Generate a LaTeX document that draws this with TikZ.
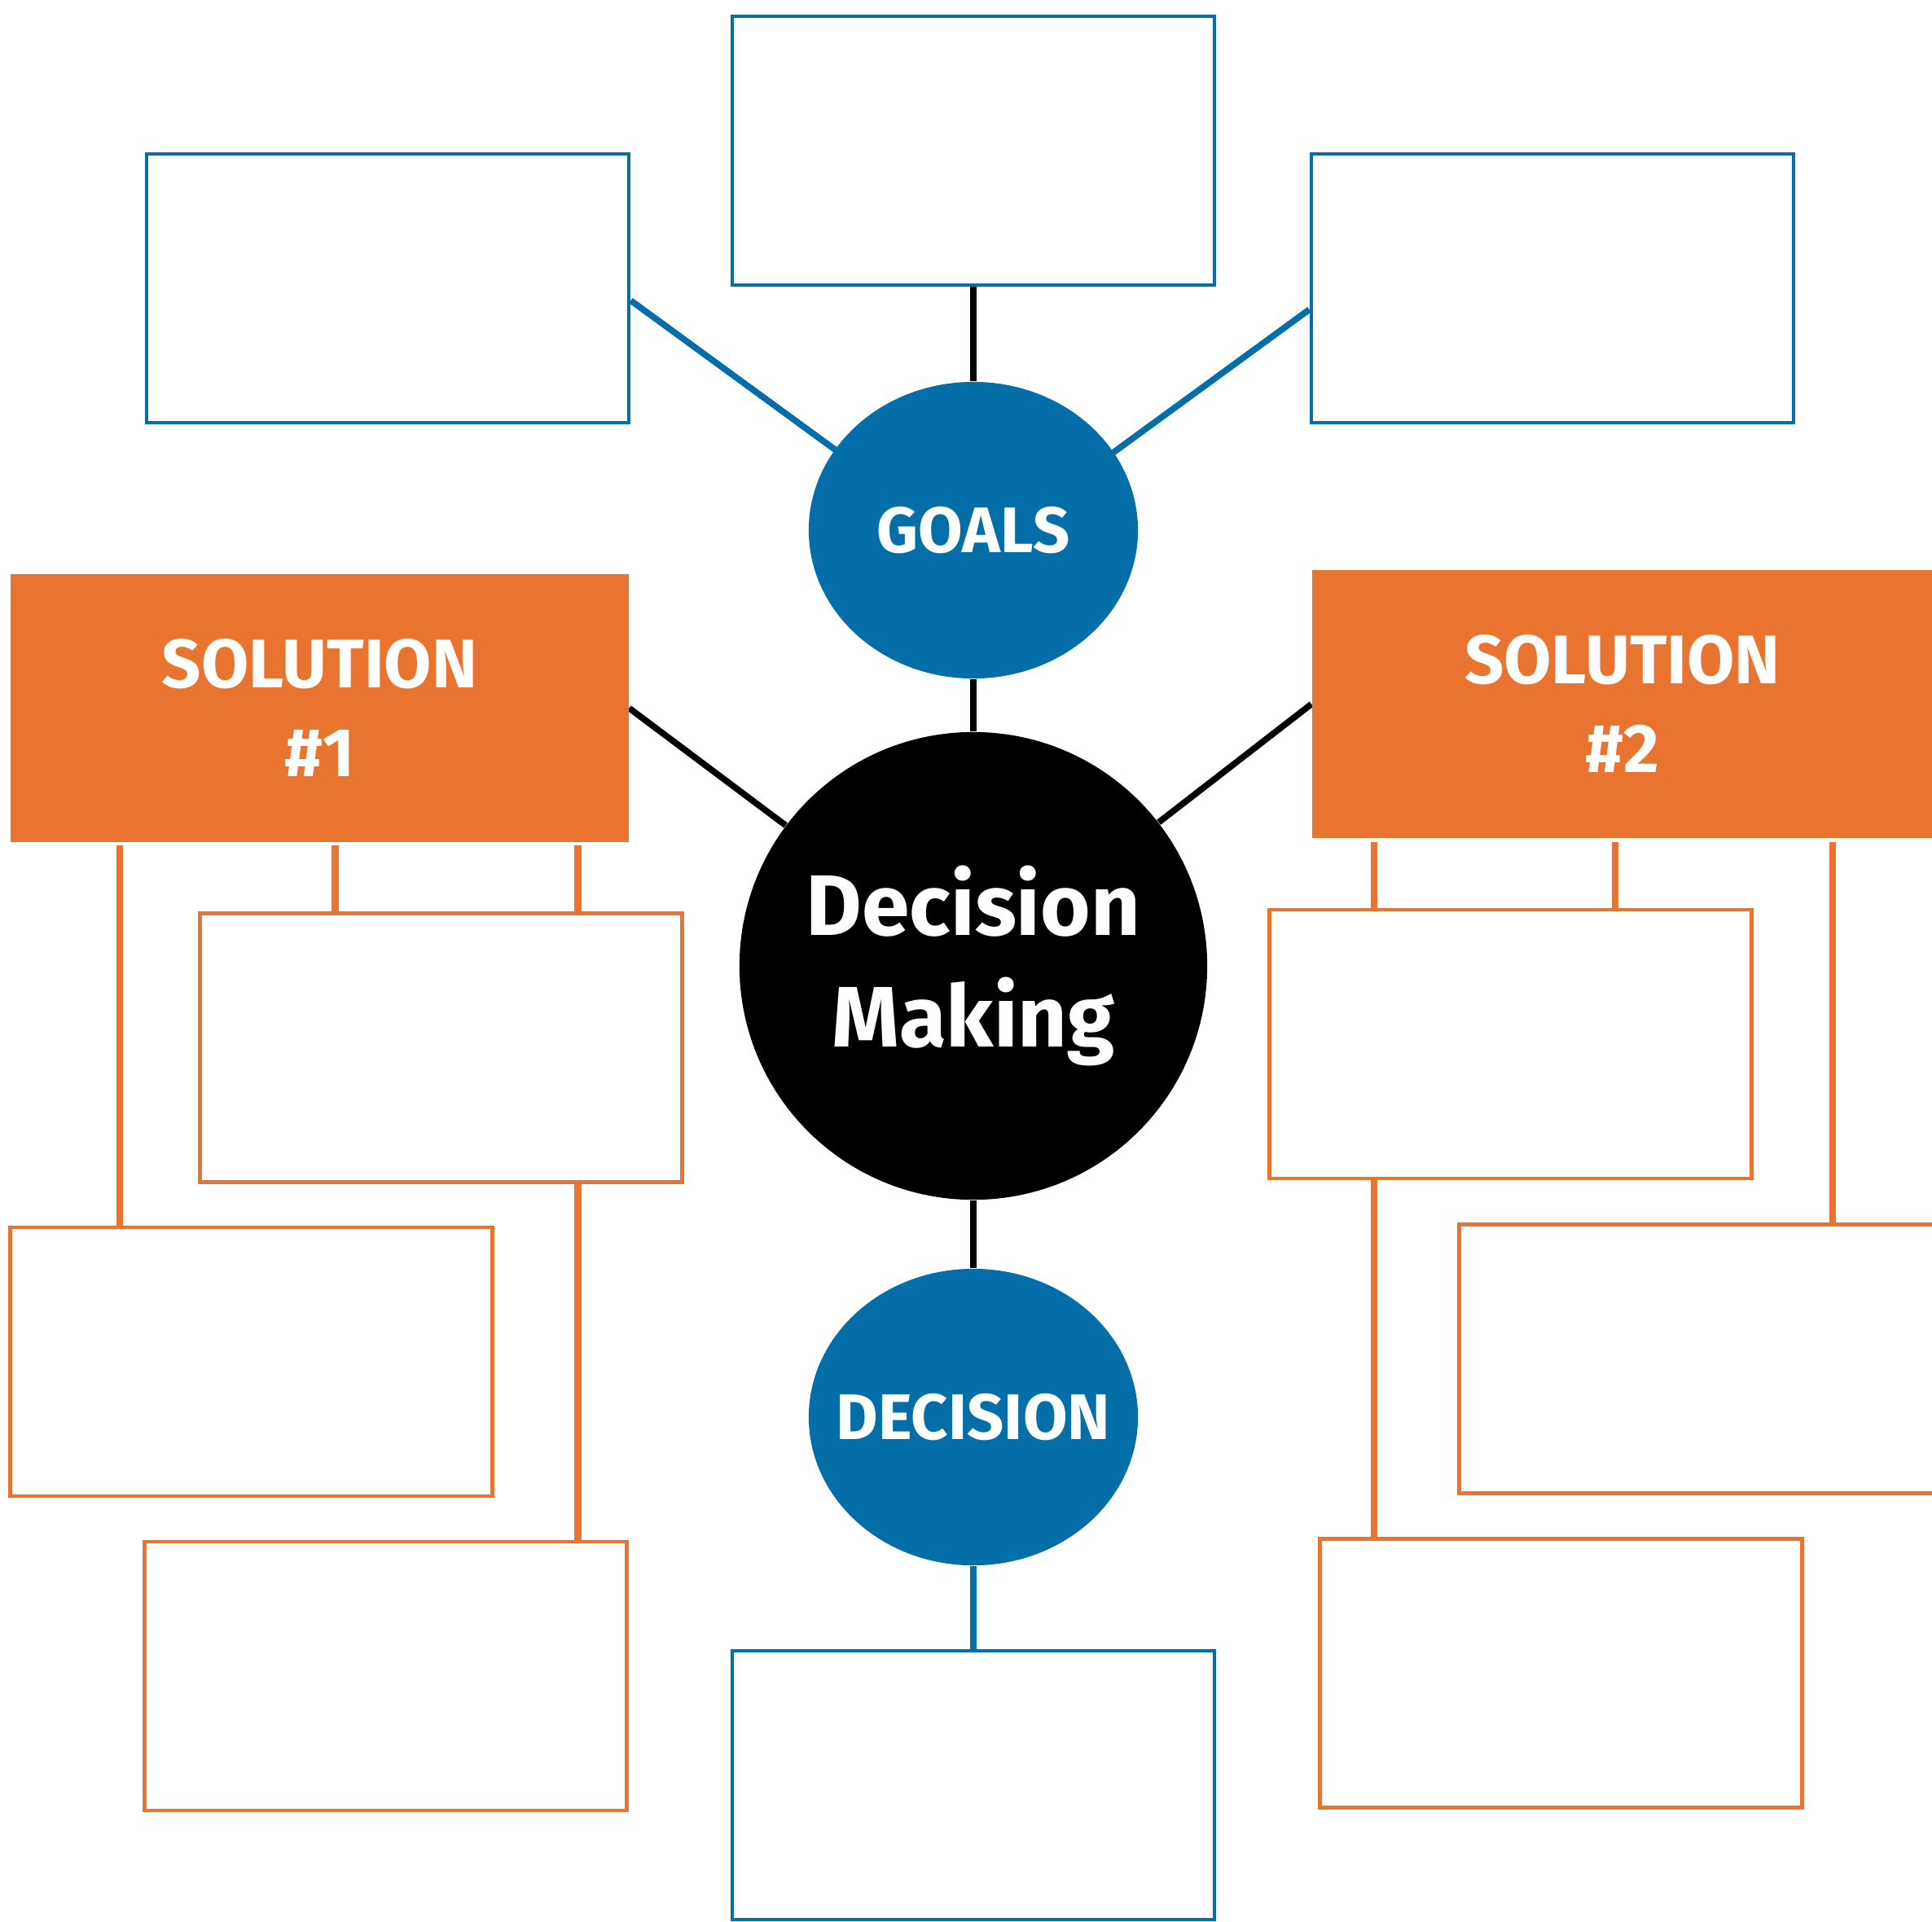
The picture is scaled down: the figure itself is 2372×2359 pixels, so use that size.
\documentclass[tikz,border=0pt]{standalone}
\usepackage{fontspec}
\setmainfont{Fira Sans}
\usepackage{tikz}
\usetikzlibrary{shapes.geometric, backgrounds}
\definecolor{dmblue}{RGB}{3,110,167}
\definecolor{dmorange}{RGB}{233,116,48}

\tikzset{
	blankbox/.style={draw, fill=white, line width=1.3pt, minimum width=5.92cm, minimum height=3.3cm, inner sep=0pt},
	goalbox/.style={blankbox, draw=dmblue},
	stepbox/.style={blankbox, draw=dmorange},
	solbox/.style={fill=dmorange, text=white, minimum height=3.29cm, align=center, font=\fontsize{24}{31}\selectfont\bfseries},
	bubble/.style={ellipse, fill=dmblue, text=white, inner sep=0pt, minimum width=4.04cm, minimum height=3.64cm, font=\fontsize{22.5}{26}\selectfont\bfseries},
	link/.style={line width=2.2pt},
	stub/.style={line width=2.4pt, dmorange}
}

\begin{document}
\begin{tikzpicture}[x=0.01cm, y=-0.01cm]
	\useasboundingbox (0,0) rectangle (2372,2359);
	\clip (0,0) rectangle (2372,2359);
	
	% goals row
	\node[goalbox] (gtop) at (1195,185) {};
	\node[goalbox] (gleft) at (476,354) {};
	\node[goalbox] (gright) at (1906,354) {};
	\node[bubble] (goals) at (1195,651) {\makebox[0pt]{GOALS}};
	
	% centre
	\node[circle, fill=black, text=white, minimum size=5.74cm, align=center,
	font=\fontsize{30}{39}\selectfont\bfseries] (dm) at (1195,1186) {Decision\\Making};
	\node[bubble] (dec) at (1195,1740) {\makebox[0pt]{DECISION}};
	\node[goalbox] (gbot) at (1195,2192) {};
	
	% solutions
	\node[solbox, minimum width=7.58cm] (sol1) at (392.5,869.5) {SOLUTION\\\#1};
	\node[solbox, minimum width=7.62cm] (sol2) at (1992,864.5) {SOLUTION\\\#2};
	
	\node[stepbox] (l1) at (541.5,1286.5) {};
	\node[stepbox] (l2) at (308.5,1672) {};
	\node[stepbox] (l3) at (473.5,2058) {};
	\node[stepbox] (r1) at (1854.5,1282) {};
	\node[stepbox] (r2) at (2087.5,1668.5) {};
	\node[stepbox] (r3) at (1916.5,2054.5) {};
	
	% stub tops under the solution boxes
	\coordinate (s1a) at (147,1038);
	\coordinate (s1b) at (411.5,1038);
	\coordinate (s1c) at (709.5,1038);
	\coordinate (s2a) at (1687,1034);
	\coordinate (s2b) at (1983,1034);
	\coordinate (s2c) at (2250,1034);
	
	\begin{scope}[on background layer]
		% connectors
		\draw[link] (gtop) -- (goals);
		\draw[link] (goals) -- (dm);
		\draw[link] (dm) -- (dec);
		\draw[link, dmblue] (dec) -- (gbot);
		\draw[link, dmblue] ([yshift=-0.15cm]gleft.east) -- ([yshift=-0.25cm]goals.center);
		\draw[link, dmblue] ([yshift=-0.26cm]gright.west) -- ([yshift=-0.3cm]goals.center);
		\draw[link] (sol1.east) -- (dm);
		\draw[link] (sol2.west) -- (dm);
		
		\draw[stub] (s1a) -- (s1a |- l2.north);
		\draw[stub] (s1b) -- (s1b |- l1.north);
		\draw[stub] (s1c) -- (s1c |- l3.north);
		\draw[stub] (s2a) -- (s2a |- r3.north);
		\draw[stub] (s2b) -- (s2b |- r1.north);
		\draw[stub] (s2c) -- (s2c |- r2.north);
	\end{scope}
\end{tikzpicture}
\end{document}
